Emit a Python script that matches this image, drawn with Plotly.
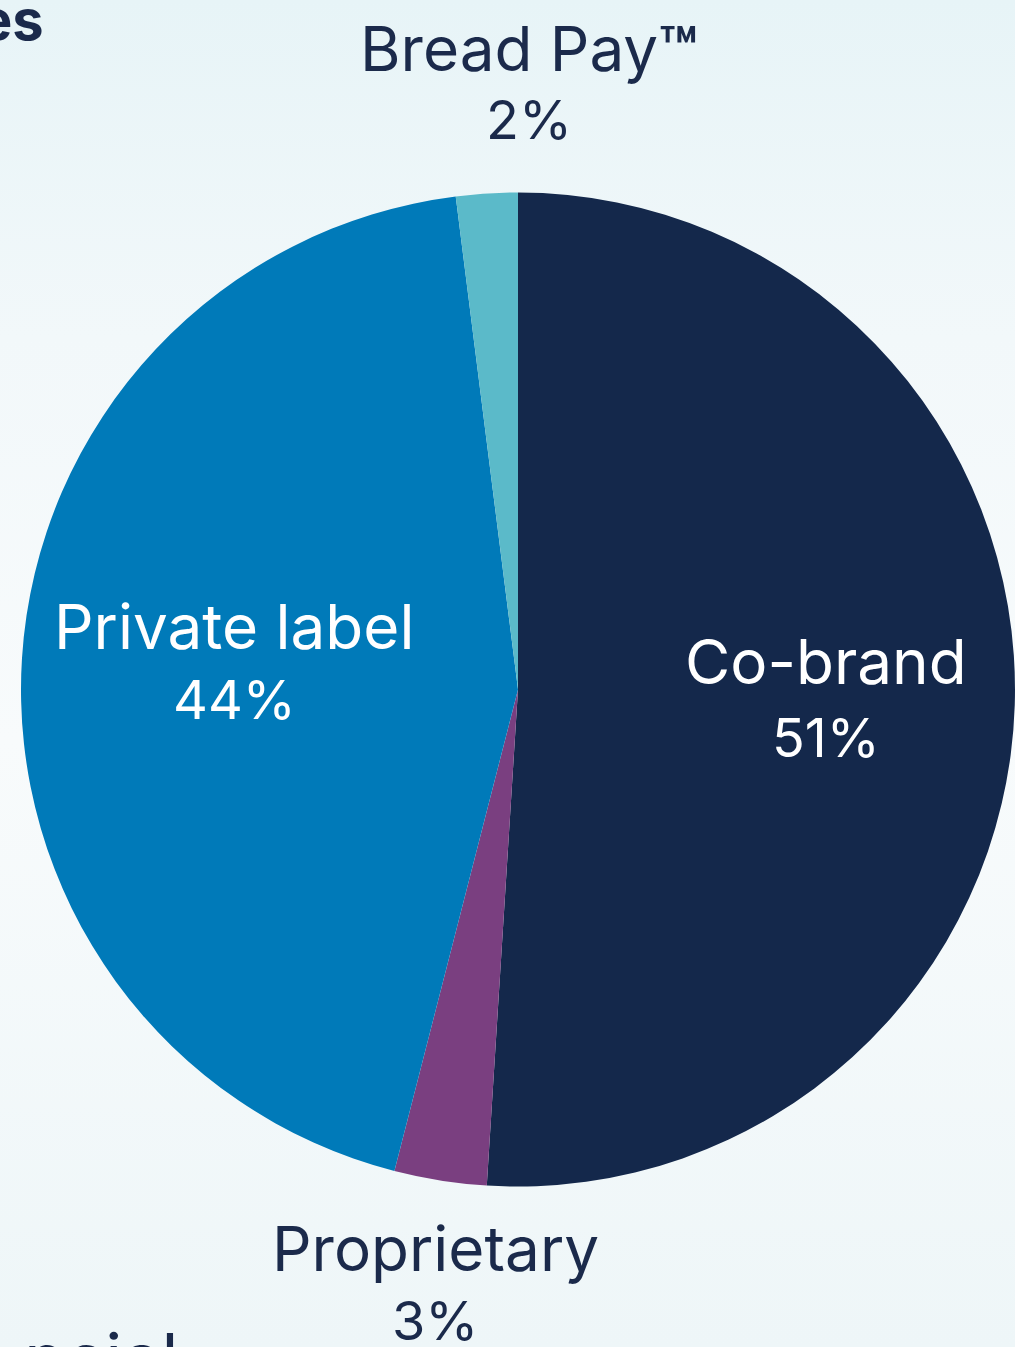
import plotly.graph_objects as go

# Card balance mix by product type
segments = ["Co-brand", "Proprietary", "Private label", "Bread Pay™"]
shares = [51, 3, 44, 2]

slice_colors = ["#14284B", "#7A3F80", "#007AB9", "#5BBAC9"]
label_colors = ["#FFFFFF", "#1B2A4B", "#FFFFFF", "#1B2A4B"]

W, H = 1015, 1347
NAVY = "#1B2A4B"
FONT = "Inter"
NAME_FS = 62
VALUE_FS = 54

# label placement in pixels: (center x, name line y, value line y)
label_layout = {
    "Co-brand": (826, 661, 737),
    "Proprietary": (435, 1248, 1320),
    "Private label": (234, 627, 699),
    "Bread Pay™": (529, 48, 120),
}


def px(x, y):
    return x / W, 1 - y / H


fig = go.Figure()

# soft backdrop gradient behind the pie
fig.add_trace(go.Scatter(
    x=[0, 1, 1, 0, 0], y=[0, 0, 1, 1, 0],
    fill="toself", mode="none", hoverinfo="skip", showlegend=False,
    fillgradient=dict(
        type="vertical", start=0, stop=1,
        colorscale=[[0, "#EEF6F8"], [0.45, "#F8FBFC"], [0.75, "#F2F8FA"], [1, "#E7F4F7"]],
    ),
))

# pie: center (518, 690), radius 497 px
fig.add_trace(go.Pie(
    labels=segments,
    values=shares,
    sort=False,
    direction="clockwise",
    rotation=0,
    marker=dict(colors=slice_colors, line=dict(width=0)),
    textinfo="none",
    hoverinfo="label+percent",
    showlegend=False,
    domain=dict(x=[21 / W, 1.0], y=[(H - 1188) / H, (H - 191) / H]),
))

annotations = []
for name, share, col in zip(segments, shares, label_colors):
    cx, y_name, y_val = label_layout[name]
    text_name = name.replace("™", "<b>™</b>")
    for txt, yy, fs in ((text_name, y_name, NAME_FS), (f"{share}%", y_val, VALUE_FS)):
        x0, y0 = px(cx, yy)
        annotations.append(dict(
            x=x0, y=y0, xref="paper", yref="paper",
            xanchor="center", yanchor="middle",
            text=txt, showarrow=False,
            font=dict(family=FONT, size=fs, color=col),
        ))

# heading fragments at the left edge of the slide
ex, ey = px(46, 40 - 0.364 * 56)
annotations.append(dict(
    x=ex, y=ey, xref="paper", yref="paper", xanchor="right", yanchor="middle",
    text="<b>es</b>", showarrow=False,
    font=dict(family=FONT, size=56, color=NAVY),
))
nx, ny = px(181, 1384 - 0.364 * 70)
annotations.append(dict(
    x=nx, y=ny, xref="paper", yref="paper", xanchor="right", yanchor="middle",
    text="ncial", showarrow=False,
    font=dict(family=FONT, size=70, color=NAVY),
))

fig.update_layout(
    width=W, height=H,
    margin=dict(l=0, r=0, t=0, b=0),
    paper_bgcolor="#F4F9FA",
    plot_bgcolor="rgba(0,0,0,0)",
    xaxis=dict(range=[0, 1], domain=[0, 1], visible=False, fixedrange=True),
    yaxis=dict(range=[0, 1], domain=[0, 1], visible=False, fixedrange=True),
    annotations=annotations,
    showlegend=False,
)

fig.write_html("out.html", config={"displayModeBar": False})
